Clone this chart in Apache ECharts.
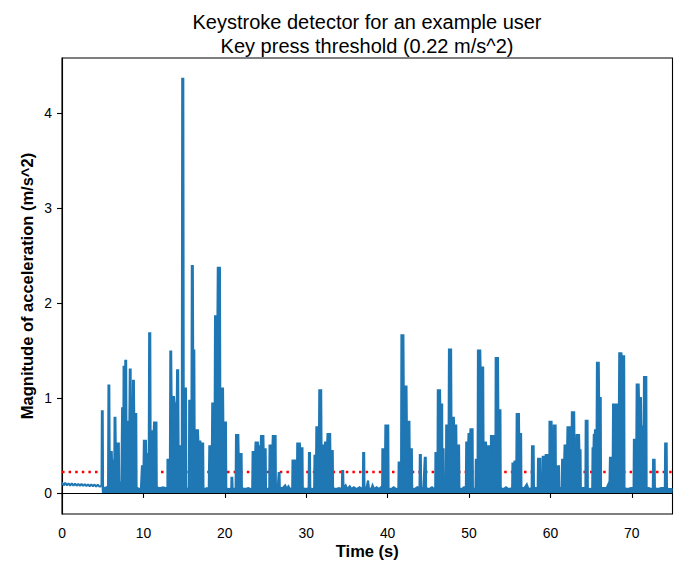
<!DOCTYPE html>
<html>
<head>
<meta charset="utf-8">
<script src="https://cdn.jsdelivr.net/npm/echarts@6/dist/echarts.min.js"></script>
<style>
  html, body { margin: 0; padding: 0; background: #fff; }
  #chart { width: 682px; height: 561px; }
</style>
</head>
<body>
<div id="chart"></div>
<script>
// tick values
const timeTicks = [0, 10, 20, 30, 40, 50, 60, 70];
const magTicks = [0, 1, 2, 3, 4];
const threshold = 0.22;

// resting signal before the first key press [time s, magnitude m/s^2]
const restPhase = [
    [0, 0.11], [0.2, 0.08], [0.4, 0.105], [0.6, 0.08], [0.8, 0.1], [1.0, 0.078], [1.2, 0.1],
    [1.4, 0.077], [1.6, 0.098], [1.8, 0.076], [2.0, 0.095], [2.2, 0.075], [2.4, 0.094],
    [2.6, 0.074], [2.8, 0.092], [3.0, 0.072], [3.2, 0.09], [3.4, 0.07], [3.6, 0.09], [3.8, 0.07],
    [4.0, 0.088], [4.2, 0.068], [4.4, 0.088], [4.6, 0.067], [4.86, 0.07]
];

// typing phase (envelope of the dense signal) [time s, magnitude m/s^2]
const typingPhase = [
    [4.86, 0.07], [4.9, 0.86], [5.0, 0.86], [5.04, 0.06], [5.28, 0.05], [5.48, 0.06], [5.66, 0.05],
    [5.71, 1.13], [5.81, 1.13], [5.85, 0.43], [6.11, 0.43], [6.14, 0.34], [6.43, 0.34], [6.46, 0.79],
    [6.56, 0.79], [6.6, 0.52], [6.98, 0.52], [7.02, 0.06], [7.16, 0.05], [7.23, 0.12], [7.29, 0.05],
    [7.39, 0.89], [7.55, 0.89], [7.57, 1.34], [7.65, 1.34], [7.68, 0.9], [7.75, 0.9], [7.78, 1.39],
    [7.88, 1.39], [7.91, 0.75], [8.28, 0.75], [8.33, 1.3], [8.43, 1.3], [8.47, 0.75], [8.69, 0.75],
    [8.73, 1.18], [8.83, 1.18], [8.87, 0.83], [9.12, 0.83], [9.16, 0.06], [9.45, 0.04], [9.7, 0.05],
    [9.82, 0.28], [10.02, 0.28], [10.06, 0.55], [10.31, 0.55], [10.34, 0.41], [10.66, 0.41],
    [10.71, 1.68], [10.84, 1.68], [10.88, 0.65], [11.27, 0.65], [11.31, 0.74], [11.6, 0.74],
    [11.64, 0.06], [12.0, 0.05], [12.4, 0.06], [12.8, 0.05], [12.95, 0.05],
    [12.96, 0.35], [13.26, 0.35], [13.31, 1.49], [13.41, 1.49], [13.46, 1.01], [13.76, 1.01],
    [13.81, 0.94], [14.1, 0.94], [14.14, 1.29], [14.27, 1.29], [14.32, 0.49], [14.72, 0.49],
    [14.77, 4.36], [14.9, 4.36], [14.95, 1.1], [15.23, 1.1], [15.27, 0.05], [15.44, 0.04], [15.59, 0.05],
    [15.63, 0.97], [15.91, 0.97], [15.95, 2.39], [16.07, 2.39], [16.11, 1.5], [16.25, 1.5],
    [16.29, 0.66], [16.7, 0.66], [16.75, 0.54], [17.0, 0.54], [17.03, 0.52], [17.34, 0.52],
    [17.38, 0.05], [17.57, 0.04], [17.77, 0.05], [18.03, 0.04],
    [18.1, 0.49], [18.42, 0.49], [18.46, 0.94], [18.76, 0.94], [18.8, 1.86], [19.1, 1.86],
    [19.14, 2.37], [19.4, 2.37], [19.44, 1.1], [19.78, 1.1], [19.82, 0.74], [20.14, 0.74],
    [20.18, 0.05], [20.5, 0.04], [20.8, 0.05], [20.82, 0.16], [20.92, 0.16], [20.96, 0.05],
    [21.2, 0.04], [21.33, 0.05], [21.38, 0.61], [21.66, 0.61], [21.7, 0.41], [22.06, 0.41],
    [22.1, 0.05], [22.5, 0.04], [22.9, 0.05], [23.2, 0.04], [23.37, 0.05],
    [23.42, 0.43], [23.74, 0.43], [23.78, 0.53], [24.06, 0.53], [24.09, 0.49], [24.41, 0.49],
    [24.45, 0.6], [24.74, 0.6], [24.77, 0.46], [25.02, 0.46], [25.06, 0.05], [25.3, 0.04], [25.46, 0.05],
    [25.5, 0.5], [25.86, 0.5], [25.9, 0.6], [26.24, 0.6], [26.28, 0.05], [26.5, 0.04],
    [26.62, 0.21], [26.72, 0.21], [26.76, 0.05], [27.1, 0.05], [27.42, 0.08], [27.62, 0.04],
    [27.82, 0.07], [28.02, 0.04], [28.28, 0.05],
    [28.32, 0.34], [28.64, 0.34], [28.68, 0.05], [28.86, 0.05], [28.9, 0.52], [29.22, 0.52],
    [29.25, 0.47], [29.54, 0.47], [29.58, 0.05], [29.95, 0.04], [30.3, 0.05],
    [30.34, 0.42], [30.46, 0.42], [30.5, 0.05], [30.75, 0.04], [30.98, 0.05],
    [31.02, 0.39], [31.22, 0.39], [31.25, 0.69], [31.58, 0.69], [31.61, 1.08], [31.84, 1.08],
    [31.88, 0.5], [32.28, 0.5], [32.32, 0.53], [32.58, 0.53], [32.62, 0.62], [32.94, 0.62],
    [32.97, 0.44], [33.26, 0.44], [33.3, 0.05], [33.65, 0.04], [34.05, 0.05], [34.38, 0.04],
    [34.42, 0.23], [34.54, 0.23], [34.58, 0.05], [34.85, 0.08], [35.05, 0.04], [35.35, 0.07],
    [35.55, 0.04], [35.85, 0.06], [36.2, 0.04], [36.55, 0.06], [36.9, 0.04], [36.96, 0.05],
    [37.0, 0.42], [37.12, 0.42], [37.16, 0.05], [37.4, 0.05], [37.6, 0.13], [37.7, 0.05],
    [38.0, 0.04], [38.15, 0.08], [38.35, 0.04], [38.65, 0.06], [38.95, 0.04], [39.2, 0.06], [39.33, 0.05],
    [39.36, 0.46], [39.7, 0.46], [39.73, 0.71], [40.08, 0.71], [40.12, 0.05], [40.45, 0.04],
    [40.75, 0.06], [41.05, 0.04], [41.32, 0.05],
    [41.36, 0.32], [41.66, 0.32], [41.7, 1.66], [41.94, 1.66], [41.98, 1.12], [42.32, 1.12],
    [42.36, 0.75], [42.68, 0.75], [42.71, 0.46], [42.98, 0.46], [43.02, 0.05], [43.3, 0.04],
    [43.65, 0.06], [43.92, 0.05], [43.96, 0.4], [44.08, 0.4], [44.12, 0.05], [44.4, 0.05],
    [44.57, 0.37], [44.69, 0.37], [44.73, 0.05], [45.1, 0.04], [45.45, 0.06], [45.75, 0.04], [45.85, 0.05],
    [45.88, 0.42], [46.14, 0.42], [46.17, 1.08], [46.44, 1.08], [46.47, 0.93], [46.7, 0.93],
    [46.72, 0.46], [46.88, 0.46], [46.92, 0.05], [47.16, 0.05],
    [47.2, 0.71], [47.5, 0.71], [47.54, 1.51], [47.8, 1.51], [47.84, 0.79], [48.14, 0.79],
    [48.17, 0.71], [48.43, 0.71], [48.46, 0.5], [48.78, 0.5], [48.82, 0.05], [49.1, 0.04],
    [49.4, 0.06], [49.62, 0.05],
    [49.66, 0.53], [49.91, 0.53], [49.94, 0.62], [50.15, 0.62], [50.18, 0.67], [50.44, 0.67],
    [50.48, 0.05], [50.7, 0.04], [50.8, 0.05],
    [50.84, 0.35], [51.06, 0.35], [51.1, 1.5], [51.38, 1.5], [51.42, 1.32], [51.74, 1.32],
    [51.78, 0.53], [52.08, 0.53], [52.11, 0.49], [52.46, 0.49], [52.5, 0.05], [52.66, 0.05],
    [52.7, 0.6], [53.02, 0.6], [53.06, 0.05], [53.24, 0.05], [53.28, 1.42], [53.56, 1.42],
    [53.6, 0.87], [53.86, 0.87], [53.9, 0.05], [54.25, 0.04], [54.55, 0.06], [54.85, 0.04], [55.3, 0.05],
    [55.34, 0.31], [55.57, 0.31], [55.59, 0.33], [55.82, 0.33], [55.86, 0.83], [56.13, 0.83],
    [56.16, 0.62], [56.4, 0.62], [56.44, 0.05], [56.8, 0.05], [57.1, 0.09], [57.3, 0.04], [57.7, 0.05],
    [57.74, 0.49], [57.94, 0.49], [57.98, 0.05], [58.2, 0.05], [58.44, 0.05],
    [58.48, 0.36], [58.76, 0.36], [58.8, 0.05], [59.02, 0.05], [59.06, 0.38], [59.3, 0.38],
    [59.34, 0.1], [59.42, 0.4], [59.7, 0.4], [59.74, 0.1], [59.86, 0.1], [59.89, 0.75], [60.14, 0.75],
    [60.17, 0.32], [60.38, 0.32], [60.41, 0.71], [60.64, 0.71], [60.68, 0.05], [60.8, 0.05],
    [60.83, 0.28], [61.06, 0.28], [61.1, 0.05], [61.4, 0.05],
    [61.44, 0.35], [61.7, 0.35], [61.74, 0.5], [62.06, 0.5], [62.1, 0.69], [62.38, 0.69],
    [62.42, 0.48], [62.6, 0.48], [62.64, 0.85], [62.92, 0.85], [62.96, 0.48], [63.18, 0.48],
    [63.22, 0.61], [63.52, 0.61], [63.56, 0.45], [63.7, 0.45], [63.74, 0.05], [64.0, 0.05], [64.3, 0.05],
    [64.34, 0.76], [64.56, 0.76], [64.6, 0.05], [64.85, 0.04], [65.14, 0.05],
    [65.18, 0.47], [65.3, 0.47], [65.33, 0.61], [65.45, 0.61], [65.48, 0.66], [65.68, 0.66],
    [65.72, 1.37], [65.94, 1.37], [65.98, 1.0], [66.18, 1.0], [66.22, 0.05], [66.6, 0.05],
    [66.9, 0.05], [67.1, 0.09], [67.25, 0.05], [67.28, 0.05],
    [67.32, 0.37], [67.66, 0.37], [67.7, 0.93], [68.42, 0.93], [68.46, 1.47], [68.72, 1.47],
    [68.76, 1.44], [69.06, 1.44], [69.1, 0.05], [69.5, 0.04], [69.9, 0.05], [70.22, 0.05],
    [70.26, 0.56], [70.56, 0.56], [70.6, 1.14], [70.84, 1.14], [70.88, 1.0], [71.12, 1.0],
    [71.16, 0.7], [71.46, 0.7], [71.5, 1.22], [71.78, 1.22], [71.82, 0.05], [72.1, 0.05],
    [72.4, 0.04], [72.58, 0.05], [72.62, 0.35], [72.8, 0.35], [72.84, 0.05], [73.2, 0.04],
    [73.6, 0.05], [74.06, 0.05], [74.1, 0.52], [74.28, 0.52], [74.32, 0.05], [74.6, 0.04], [75.0, 0.04]
];

const FONT = 'Liberation Sans, Arial, sans-serif';
const BLUE = '#1f77b4';

// svg 渲染，保留密集折线里的短线段
const chart = echarts.init(document.getElementById('chart'), null, { renderer: 'svg' });

const option = {
    animation: false,
    backgroundColor: '#fff',
    title: {
        text: 'Keystroke detector for an example user\nKey press threshold (0.22 m/s^2)',
        left: 362,
        top: 5,
        textAlign: 'center',
        textStyle: {
            fontFamily: FONT,
            fontSize: 20,
            fontWeight: 'normal',
            color: '#000',
            lineHeight: 24
        }
    },
    grid: {
        left: 62,
        right: 9.5,
        top: 58,
        bottom: 47,
        outerBoundsMode: 'none',
        containLabel: false,
        show: true,
        borderColor: '#000',
        borderWidth: 1.1,
        backgroundColor: 'transparent'
    },
    xAxis: {
        type: 'value',
        min: 0,
        max: 75,
        name: 'Time (s)',
        nameLocation: 'middle',
        nameGap: 28,
        nameMoveOverlap: false,
        nameTextStyle: { fontFamily: FONT, fontSize: 16.5, fontWeight: 'bold', color: '#000', verticalAlign: 'top' },
        axisLine: { show: true, lineStyle: { color: '#000', width: 1.1 } },
        axisTick: { show: true, inside: false, length: 5, lineStyle: { color: '#000', width: 1.1 }, customValues: timeTicks },
        axisLabel: { fontFamily: FONT, fontSize: 13.9, color: '#000', margin: 12, customValues: timeTicks },
        splitLine: { show: false }
    },
    yAxis: {
        type: 'value',
        min: -0.222,
        max: 4.58,
        name: 'Magnitude of acceleration (m/s^2)',
        nameLocation: 'middle',
        nameGap: 27,
        nameMoveOverlap: false,
        nameTextStyle: { fontFamily: FONT, fontSize: 16.5, fontWeight: 'bold', color: '#000' },
        axisLine: { show: true, lineStyle: { color: '#000', width: 1.1 } },
        axisTick: { show: true, inside: false, length: 5, lineStyle: { color: '#000', width: 1.1 }, customValues: magTicks },
        axisLabel: { fontFamily: FONT, fontSize: 13.9, color: '#000', margin: 10, customValues: magTicks },
        splitLine: { show: false }
    },
    series: [
        {
            name: 'threshold',
            type: 'line',
            z: 1,
            showSymbol: false,
            silent: true,
            data: [[0, threshold], [75, threshold]],
            lineStyle: { color: '#ff0000', width: 2.5, type: [2.5, 4.1], cap: 'butt' }
        },
        {
            name: 'rest',
            type: 'line',
            z: 3,
            showSymbol: false,
            data: restPhase,
            lineStyle: { color: BLUE, width: 2.1 }
        },
        {
            name: 'typing',
            type: 'line',
            z: 3,
            showSymbol: false,
            data: typingPhase,
            lineStyle: { color: BLUE, width: 2.1, join: 'miter' },
            areaStyle: { color: BLUE, opacity: 1, origin: 'auto' }
        }
    ]
};

chart.setOption(option);
</script>
</body>
</html>
